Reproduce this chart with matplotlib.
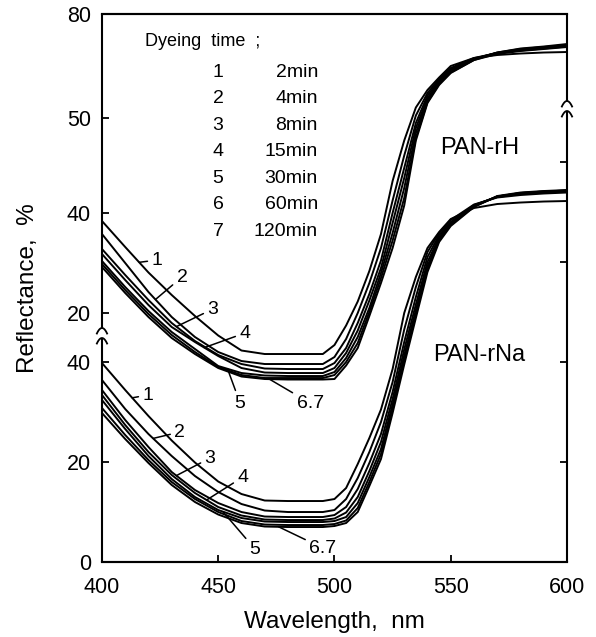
import numpy as np
import matplotlib
matplotlib.use("Agg")
import matplotlib.pyplot as plt

plt.rcParams['font.family'] = ['Liberation Sans', 'DejaVu Sans']

# wavelength grid, nm
wl = [400, 410, 420, 430, 440, 450, 460, 470, 480, 490, 495, 500, 505, 510,
      515, 520, 525, 530, 535, 540, 545, 550, 560, 570, 580, 590, 600]

# PAN-rH reflectance (%), read against the upper scale
rh_1 = [38.4, 33.2, 28.1, 23.6, 19.4, 15.5, 12.5, 11.8, 11.8, 11.8, 11.8, 13.6, 17.5, 22.3,
        28.4, 35.8, 46.4, 54.5, 61.1, 64.6, 67.1, 69.4, 71.0, 71.6, 71.9, 72.1, 72.2]
rh_2 = [35.8, 30.0, 24.2, 19.2, 15.2, 12.2, 10.4, 9.8, 9.8, 9.8, 9.8, 11.2, 14.8, 20.0,
        26.0, 33.0, 42.5, 51.5, 59.5, 64.0, 66.8, 69.0, 71.0, 72.0, 72.5, 72.9, 73.3]
rh_3 = [32.8, 27.6, 22.6, 18.0, 14.4, 11.6, 9.8, 8.9, 8.8, 8.8, 8.8, 10.0, 13.0, 18.0,
        23.8, 30.5, 40.0, 49.0, 58.0, 63.5, 66.5, 68.8, 70.9, 72.0, 72.6, 73.0, 73.5]
rh_4 = [31.8, 26.6, 21.6, 17.2, 14.2, 11.4, 9.0, 8.1, 8.0, 8.0, 8.0, 9.0, 12.0, 16.5,
        22.5, 29.0, 38.0, 47.0, 57.0, 63.0, 66.2, 68.6, 70.8, 72.1, 72.8, 73.2, 73.6]
rh_5 = [30.4, 25.2, 20.4, 16.2, 12.8, 9.4, 8.0, 7.5, 7.4, 7.4, 7.4, 8.2, 11.0, 15.2,
        21.0, 28.0, 36.0, 45.0, 56.0, 62.6, 66.0, 68.3, 70.7, 72.1, 72.9, 73.3, 73.8]
rh_6 = [29.8, 24.6, 19.8, 15.6, 12.2, 9.2, 7.6, 7.0, 7.0, 7.0, 7.0, 7.6, 10.2, 14.0,
        20.2, 27.0, 34.5, 43.0, 55.0, 62.2, 65.8, 68.1, 70.6, 72.0, 72.7, 73.1, 73.5]
rh_7 = [29.2, 24.0, 19.2, 15.0, 11.8, 9.0, 7.3, 6.8, 6.7, 6.7, 6.7, 6.8, 9.5, 13.0,
        19.4, 26.0, 33.0, 41.5, 54.5, 62.0, 65.6, 68.0, 70.6, 71.8, 72.4, 72.8, 73.2]

# PAN-rNa reflectance (%), read against the lower scale
rna_1 = [39.8, 34.4, 29.2, 24.3, 19.9, 16.1, 13.6, 12.3, 12.2, 12.2, 12.2, 12.6, 14.8, 19.6,
         24.8, 30.5, 38.6, 49.8, 57.0, 62.8, 66.0, 68.6, 70.8, 71.6, 71.9, 72.1, 72.2]
rna_2 = [36.4, 30.6, 25.6, 21.2, 17.2, 14.0, 11.6, 10.3, 10.0, 10.0, 10.0, 10.4, 12.6, 16.8,
         22.0, 28.0, 36.0, 46.5, 55.0, 62.0, 65.8, 68.4, 71.5, 72.9, 73.4, 73.7, 73.9]
rna_3 = [34.4, 28.4, 23.0, 18.0, 14.4, 11.8, 10.0, 9.1, 9.0, 9.0, 9.0, 9.4, 11.0, 14.6,
         19.8, 25.6, 34.0, 44.0, 53.0, 61.0, 65.4, 68.0, 71.4, 73.0, 73.6, 73.9, 74.1]
rna_4 = [33.4, 27.4, 22.0, 17.4, 13.8, 11.0, 9.3, 8.5, 8.4, 8.4, 8.4, 8.7, 9.9, 13.0,
         18.2, 24.0, 32.6, 42.5, 51.5, 60.0, 65.0, 67.8, 71.3, 73.1, 73.7, 74.0, 74.2]
rna_5 = [32.4, 26.6, 21.2, 16.6, 13.0, 10.4, 8.8, 8.1, 8.0, 8.0, 8.0, 8.2, 9.0, 11.8,
         17.0, 22.6, 31.5, 41.3, 50.4, 59.2, 64.6, 67.6, 71.2, 73.1, 73.8, 74.1, 74.3]
rna_6 = [30.8, 25.4, 20.4, 16.0, 12.6, 10.0, 8.2, 7.5, 7.4, 7.4, 7.4, 7.6, 8.3, 10.8,
         16.0, 21.6, 30.6, 40.4, 49.6, 58.6, 64.3, 67.4, 71.1, 73.1, 73.8, 74.1, 74.3]
rna_7 = [29.8, 24.6, 19.8, 15.4, 12.0, 9.5, 7.8, 7.1, 7.0, 7.0, 7.0, 7.2, 7.8, 10.0,
         15.2, 20.6, 29.8, 39.5, 48.8, 58.0, 64.0, 67.2, 71.0, 73.2, 73.9, 74.2, 74.4]

times = ["2min", "4min", "8min", "15min", "30min", "60min", "120min"]
curve_ids = ["1", "2", "3", "4", "5", "6", "7"]

# upper (PAN-rH) block is shifted up on the broken axis
rh_offset = 29.8

# left axis: tick positions in plot units and what is printed there
left_ticks = [0, 20, 40, rh_offset + 20, rh_offset + 40, 88.8, 109.6]
left_labels = ["0", "20", "40", "20", "40", "50", "80"]
right_ticks = [20, 40, 60, 80]

# curve labels: (text, curve index, wavelength hit on curve, text x, text y)
rh_marks = [("1", 0, 416, 423.7, 60.4), ("2", 1, 423, 434.4, 57.0),
            ("3", 2, 432, 447.7, 50.6), ("4", 3, 444, 461.5, 45.8),
            ("5", 4, 454, 459.4, 31.8), ("6.7", 6, 472, 489.5, 31.8)]
rna_marks = [("1", 0, 413, 419.8, 33.4), ("2", 1, 422, 433.5, 26.0),
             ("3", 2, 432, 446.5, 20.8), ("4", 3, 445, 460.6, 17.0),
             ("5", 4, 452, 465.8, 2.6), ("6.7", 6, 476, 495.0, 2.8)]

rh_all = [rh_1, rh_2, rh_3, rh_4, rh_5, rh_6, rh_7]
rna_all = [rna_1, rna_2, rna_3, rna_4, rna_5, rna_6, rna_7]

fig = plt.figure(figsize=(5.96, 6.37), dpi=100)
ax = fig.add_axes([0.1711, 0.1177, 0.7802, 0.8603])

x = np.array(wl)
for r in rh_all:
    ax.plot(x, np.array(r) + rh_offset, color="black", lw=1.4)
for r in rna_all:
    ax.plot(x, np.array(r), color="black", lw=1.4)

ax.set_xlim(400, 600)
ax.set_ylim(0, 109.6)
ax.set_xticks([400, 450, 500, 550, 600])
ax.set_yticks(left_ticks)
ax.set_yticklabels(left_labels)
ax.tick_params(direction="in", length=5, width=1.3, labelsize=15.5)
ax.tick_params(axis="x", pad=11)
ax.tick_params(axis="y", pad=8)

# right axis ticks only
ax2 = ax.twinx()
ax2.set_ylim(ax.get_ylim())
ax2.set_yticks(right_ticks)
ax2.set_yticklabels([])
ax2.tick_params(direction="in", length=5, width=1.3)

# spines drawn by hand so they can be broken
for a in (ax, ax2):
    for s in ("left", "right"):
        a.spines[s].set_visible(False)
    a.spines["top"].set_linewidth(1.5)
    a.spines["bottom"].set_linewidth(1.5)

ytr = ax.get_yaxis_transform()


def broken_spine(xa, gap_top, gap_bot):
    kw = dict(color="black", lw=1.5, transform=ytr, clip_on=False, solid_capstyle="butt")
    ax.plot([xa, xa], [gap_top, 109.6], **kw)
    ax.plot([xa, xa], [0, gap_bot], **kw)
    # two little "^" arcs marking the break
    t = np.linspace(-1, 1, 21)
    w = 0.011
    for apex in (gap_top, gap_bot):
        ax.plot(xa + w * t, apex - 1.1 * t ** 2, color="black", lw=1.3,
                transform=ytr, clip_on=False)


broken_spine(0.0, 46.8, 44.8)
broken_spine(1.0, 92.2, 90.2)

# curve number labels with leader lines
for lab, i, hit, tx, ty in rh_marks:
    yy = np.interp(hit, x, rh_all[i]) + rh_offset
    ax.annotate(lab, xy=(hit, yy), xytext=(tx, ty), fontsize=14, ha="center", va="center",
                arrowprops=dict(arrowstyle="-", color="black", lw=1.1, shrinkA=1, shrinkB=0))
for lab, i, hit, tx, ty in rna_marks:
    yy = np.interp(hit, x, rna_all[i])
    ax.annotate(lab, xy=(hit, yy), xytext=(tx, ty), fontsize=14, ha="center", va="center",
                arrowprops=dict(arrowstyle="-", color="black", lw=1.1, shrinkA=1, shrinkB=0))

# legend table
ax.text(418.5, 104.2, "Dyeing  time  ;", fontsize=13, ha="left", va="center")
for k, (cid, t) in enumerate(zip(curve_ids, times)):
    yy = 98.0 - k * 5.3
    ax.text(449.9, yy, cid, fontsize=14, ha="center", va="center")
    ax.text(492.9, yy, t, fontsize=14, ha="right", va="center")

ax.text(545.4, 82.8, "PAN-rH", fontsize=17, ha="left", va="center")
ax.text(542.4, 41.4, "PAN-rNa", fontsize=17, ha="left", va="center")

ax.set_xlabel("Wavelength,  nm", fontsize=17.5, labelpad=9)
ax.set_ylabel("Reflectance,  %", fontsize=17.5, labelpad=20)

fig.savefig("out.png", dpi=100)
